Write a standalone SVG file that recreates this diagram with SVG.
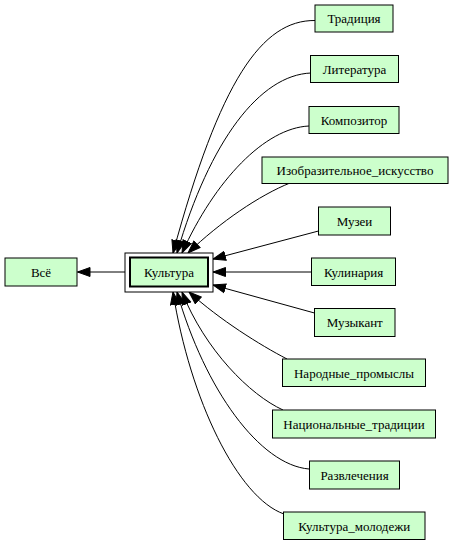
<svg xmlns="http://www.w3.org/2000/svg" width="453" height="544" viewBox="0 0 453 544">
<style>
.n rect{fill:#ccffcc;stroke:#000;stroke-width:1}
.n text,.c text{font-family:"Liberation Serif","DejaVu Serif",serif;font-size:13px;text-anchor:middle;fill:#000}
.e path{fill:none;stroke:#000;stroke-width:1;marker-end:url(#ah)}
</style>
<defs>
<marker id="ah" markerUnits="userSpaceOnUse" markerWidth="14" markerHeight="11" refX="13" refY="5.5" orient="auto" viewBox="0 0 14 11">
<path d="M0.5,1 L13,5.5 L0.5,10 z" fill="#000" stroke="#000" stroke-width="1"/>
</marker>
</defs>
<rect width="453" height="544" fill="#fff"/>
<g id="edges" class="e">
<path d="M125,272 L77.5,272"/>
<path d="M315,20.5 C262,20 220,80 173,253"/>
<path d="M311,73 C260,75 210,140 177,253"/>
<path d="M309,126 C265,128 215,180 182,253"/>
<path d="M290,183 C260,195 220,222 188,253"/>
<path d="M318.5,231 L213,259"/>
<path d="M311.5,272 L213,272"/>
<path d="M314.5,313 L213,285"/>
<path d="M287,359 C260,345 220,320 189,292"/>
<path d="M283,410 C250,395 205,350 182,292"/>
<path d="M309,469 C260,465 205,390 177,292"/>
<path d="M284,514 C238,498 190,400 173,292"/>
</g>
<g id="node-vse" class="n"><rect x="5" y="258" width="72" height="28"/><text x="41" y="276.5">Всё</text></g>
<g id="node-kultura" class="c"><rect x="125" y="253" width="88" height="39" fill="#fff" stroke="#000"/><rect x="130" y="257.5" width="78" height="29" fill="#ccffcc" stroke="#000" stroke-width="2"/><text x="169" y="276.5">Культура</text></g>
<g id="node-traditsiya" class="n"><rect x="315" y="5" width="78" height="27"/><text x="354" y="23">Традиция</text></g>
<g id="node-literatura" class="n"><rect x="310.5" y="55.5" width="88" height="27"/><text x="354.5" y="73.5">Литература</text></g>
<g id="node-kompozitor" class="n"><rect x="309" y="106.5" width="90" height="27"/><text x="354" y="124.5">Композитор</text></g>
<g id="node-izo" class="n"><rect x="262" y="157" width="186" height="26.5"/><text x="355" y="174.5">Изобразительное_искусство</text></g>
<g id="node-muzei" class="n"><rect x="318.5" y="207" width="72" height="28"/><text x="354.5" y="225.5">Музеи</text></g>
<g id="node-kulinariya" class="n"><rect x="311.5" y="258" width="84" height="27.5"/><text x="353.5" y="276.5">Кулинария</text></g>
<g id="node-muzykant" class="n"><rect x="314.5" y="308.5" width="80.5" height="28"/><text x="354.75" y="327">Музыкант</text></g>
<g id="node-narodnye" class="n"><rect x="282.5" y="359" width="143" height="27.5"/><text x="354" y="377.5">Народные_промыслы</text></g>
<g id="node-natsionalnye" class="n"><rect x="272.5" y="410" width="163" height="28"/><text x="354" y="428.5">Национальные_традиции</text></g>
<g id="node-razvlecheniya" class="n"><rect x="309.5" y="461" width="90" height="28"/><text x="354.5" y="479.5">Развлечения</text></g>
<g id="node-molodezh" class="n"><rect x="283.5" y="512" width="141.5" height="27.5"/><text x="354.25" y="530.5">Культура_молодежи</text></g>
</svg>
